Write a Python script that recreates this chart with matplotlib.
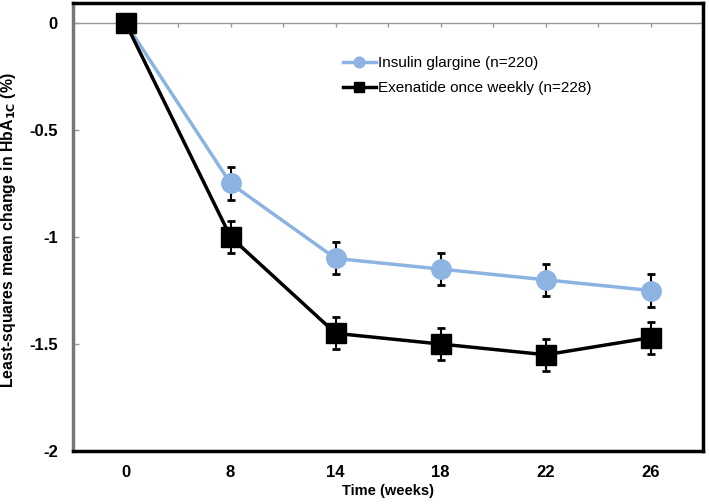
import matplotlib.pyplot as plt
import numpy as np

plt.rcParams['font.family'] = ['Liberation Sans', 'DejaVu Sans']

weeks = ['0', '8', '14', '18', '22', '26']
glargine = [0, -0.75, -1.10, -1.15, -1.20, -1.25]
glargine_err = [0, 0.075, 0.075, 0.075, 0.075, 0.075]
exenatide = [0, -1.00, -1.45, -1.50, -1.55, -1.47]
exenatide_err = [0, 0.075, 0.075, 0.075, 0.075, 0.075]

fig = plt.figure(figsize=(7.09, 5.04), dpi=100)
ax = fig.add_axes([0.103, 0.105, 0.889, 0.889])
x = np.arange(len(weeks))

# horizontal axis line at zero with small category ticks (Excel style)
ax.axhline(0, color='#999999', lw=1, zorder=0)
ax.plot(np.arange(-0.5, len(weeks), 0.5), np.zeros(2 * len(weeks) + 1),
        ls='none', marker=3, ms=3, mew=1, color='#999999', zorder=0)

blue = '#8DB3E2'
ax.errorbar(x, glargine, yerr=glargine_err, fmt='none', ecolor='black',
            elinewidth=1.5, capsize=3, capthick=2, zorder=2)
ax.plot(x, glargine, color=blue, lw=2.5, marker='o', ms=14,
        label='Insulin glargine (n=220)', zorder=3)
ax.errorbar(x, exenatide, yerr=exenatide_err, fmt='none', ecolor='black',
            elinewidth=1.5, capsize=3, capthick=2, zorder=4)
ax.plot(x, exenatide, color='black', lw=2.5, marker='s', ms=14,
        label='Exenatide once weekly (n=228)', zorder=5)

ax.set_xlim(-0.5, 5.5)
ax.set_ylim(-2, 0.093)
ax.set_xticks(x)
ax.set_xticklabels(weeks)
ax.set_yticks([0, -0.5, -1, -1.5, -2])
ax.set_yticklabels(['0', '-0.5', '-1', '-1.5', '-2'])
ax.tick_params(axis='x', length=0, labelsize=12, pad=10)
ax.tick_params(axis='y', direction='in', length=4, width=1, color='#999999',
               labelsize=12, pad=11)
for lab in ax.get_xticklabels() + ax.get_yticklabels():
    lab.set_fontweight('bold')

for s in ['top', 'right', 'bottom']:
    ax.spines[s].set_linewidth(2.5)
    ax.spines[s].set_color('black')
ax.spines['left'].set_linewidth(2.5)
ax.spines['left'].set_color('#777777')

ax.set_xlabel('Time (weeks)', fontsize=10.5, fontweight='bold', labelpad=3)
ax.set_ylabel('Least-squares mean change in HbA$_{\\mathbf{1C}}$ (%)',
              fontsize=11.4, fontweight='bold')
ax.yaxis.set_label_coords(-0.088, 0.493)

leg = ax.legend(loc='upper left', bbox_to_anchor=(0.406, 0.912), frameon=False,
                fontsize=11, handlelength=2.2, markerscale=0.55,
                handletextpad=0.1, labelspacing=0.7)

fig.savefig('out.png', dpi=100)
